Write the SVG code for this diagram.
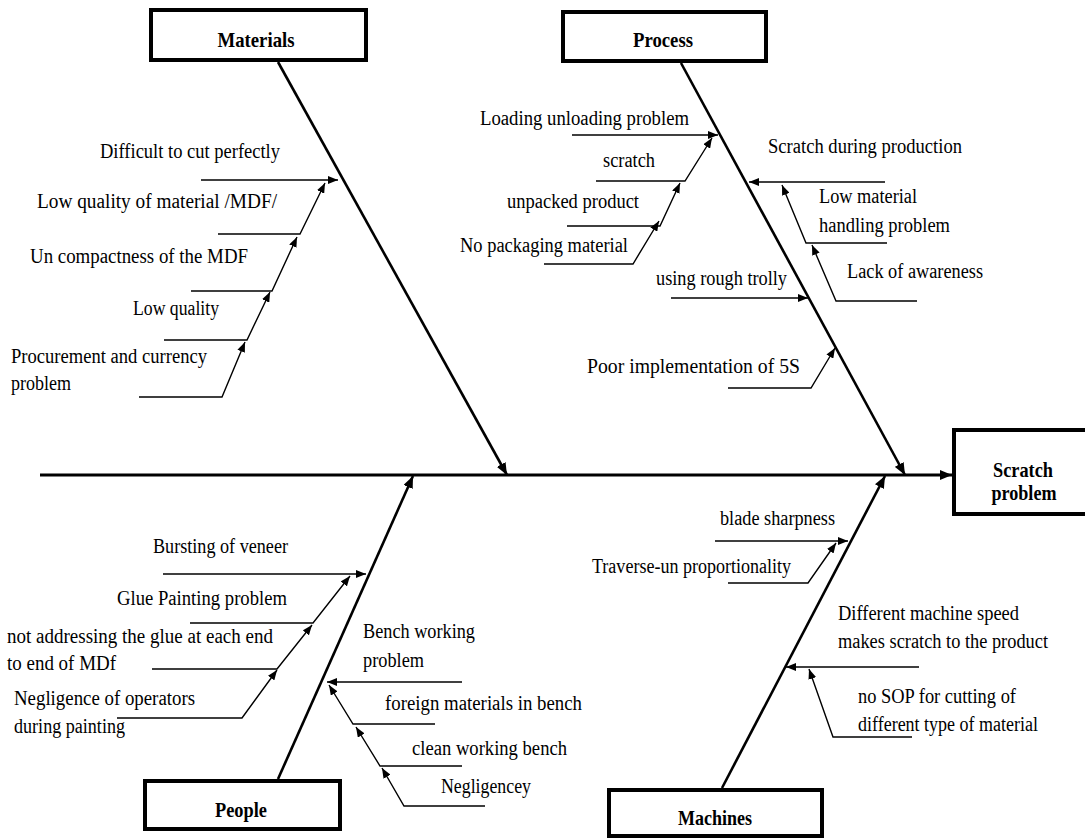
<svg xmlns="http://www.w3.org/2000/svg" width="1085" height="839" viewBox="0 0 1085 839">
<defs>
<style>
.t{font-family:"Liberation Serif","Times New Roman",serif;font-size:20px;fill:#000}
.h{font-family:"Liberation Serif","Times New Roman",serif;font-size:21px;font-weight:bold;fill:#000;text-anchor:middle}
.box{fill:#fff;stroke:#000;stroke-width:4}
.sp{fill:none;stroke:#000;stroke-width:2.6}
.br{fill:none;stroke:#000;stroke-width:1.4;marker-end:url(#ah)}
</style>
<marker id="ah" viewBox="0 0 10 8" refX="10" refY="4" markerWidth="10" markerHeight="8" markerUnits="userSpaceOnUse" orient="auto"><path d="M0,0 L10,4 L0,8 z" fill="#000"/></marker>
<marker id="ahb" viewBox="0 0 12 10" refX="12" refY="5" markerWidth="12" markerHeight="10" markerUnits="userSpaceOnUse" orient="auto"><path d="M0,0 L12,5 L0,10 z" fill="#000"/></marker>
</defs>
<rect width="1085" height="839" fill="#fff"/>

<g id="connectors">
<line x1="40" y1="475" x2="952" y2="475" class="sp" style="stroke-width:3" marker-end="url(#ahb)"/>
<line x1="278" y1="62" x2="507" y2="475" class="sp" marker-end="url(#ahb)"/>
<line x1="681" y1="63" x2="905" y2="475" class="sp" marker-end="url(#ahb)"/>
<line x1="278" y1="779" x2="413" y2="476" class="sp" marker-end="url(#ahb)"/>
<line x1="722" y1="788" x2="885" y2="476" class="sp" marker-end="url(#ahb)"/>

<polyline class="br" points="201,180 338,180"/>
<polyline class="br" points="218,234 300,234 325,183"/>
<polyline class="br" points="191,291 272,291 297,237"/>
<polyline class="br" points="164,340 247,340 270,292"/>
<polyline class="br" points="139,397 222,397 245,342"/>

<polyline class="br" points="572,135 718,135"/>
<polyline class="br" points="596,181 685,181 712,138"/>
<polyline class="br" points="567,226 660,226 680,183"/>
<polyline class="br" points="544,264 633,264 659,221"/>
<polyline class="br" points="671,298 808,298"/>
<polyline class="br" points="728,388 811,388 835,348"/>

<polyline class="br" points="885,182 749,182"/>
<polyline class="br" points="887,243 806,243 782,185"/>
<polyline class="br" points="917,301 836,301 812,245"/>

<polyline class="br" points="163,574 366,574"/>
<polyline class="br" points="190,623 313,623 350,576"/>
<polyline class="br" points="152,669 277,669 312,625"/>
<polyline class="br" points="117,718 242,718 277,670"/>

<polyline class="br" points="462,682 327,682"/>
<polyline class="br" points="435,724 353,724 329,685"/>
<polyline class="br" points="462,766 380,766 356,727"/>
<polyline class="br" points="485,806 404,806 382,768"/>

<polyline class="br" points="715,541 848,541"/>
<polyline class="br" points="728,583 808,583 836,543"/>
<polyline class="br" points="919,667 786,667"/>
<polyline class="br" points="912,737 833,737 809,669"/>
</g>

<g id="materials">
<rect class="box" x="151" y="10" width="215" height="50"/>
<text class="h" x="256" y="47" textLength="77" lengthAdjust="spacingAndGlyphs">Materials</text>
<text class="t" x="100" y="158" textLength="180" lengthAdjust="spacingAndGlyphs">Difficult  to cut perfectly</text>
<text class="t" x="37" y="208" textLength="240" lengthAdjust="spacingAndGlyphs">Low quality  of material  /MDF/</text>
<text class="t" x="30" y="263" textLength="218" lengthAdjust="spacingAndGlyphs">Un compactness  of the MDF</text>
<text class="t" x="133" y="315" textLength="86" lengthAdjust="spacingAndGlyphs">Low quality</text>
<text class="t" x="11" y="363" textLength="196" lengthAdjust="spacingAndGlyphs">Procurement  and currency</text>
<text class="t" x="11" y="390" textLength="60" lengthAdjust="spacingAndGlyphs">problem</text>
</g>

<g id="process">
<rect class="box" x="563" y="12" width="203" height="49"/>
<text class="h" x="663" y="47" textLength="60" lengthAdjust="spacingAndGlyphs">Process</text>
<text class="t" x="480" y="125" textLength="209" lengthAdjust="spacingAndGlyphs">Loading  unloading  problem</text>
<text class="t" x="603" y="167" textLength="52" lengthAdjust="spacingAndGlyphs">scratch</text>
<text class="t" x="507" y="208" textLength="132" lengthAdjust="spacingAndGlyphs">unpacked  product</text>
<text class="t" x="460" y="252" textLength="168" lengthAdjust="spacingAndGlyphs">No packaging  material</text>
<text class="t" x="656" y="285" textLength="131" lengthAdjust="spacingAndGlyphs">using  rough  trolly</text>
<text class="t" x="587" y="373" textLength="213" lengthAdjust="spacingAndGlyphs">Poor  implementation   of 5S</text>
<text class="t" x="768" y="153" textLength="194" lengthAdjust="spacingAndGlyphs">Scratch during  production</text>
<text class="t" x="819" y="203" textLength="98" lengthAdjust="spacingAndGlyphs">Low material</text>
<text class="t" x="819" y="232" textLength="131" lengthAdjust="spacingAndGlyphs">handling  problem</text>
<text class="t" x="847" y="278" textLength="136" lengthAdjust="spacingAndGlyphs">Lack of awareness</text>
</g>

<g id="people">
<rect class="box" x="145" y="781" width="195" height="48"/>
<text class="h" x="241" y="817" textLength="52" lengthAdjust="spacingAndGlyphs">People</text>
<text class="t" x="153" y="553" textLength="135" lengthAdjust="spacingAndGlyphs">Bursting  of veneer</text>
<text class="t" x="117" y="605" textLength="170" lengthAdjust="spacingAndGlyphs">Glue  Painting  problem</text>
<text class="t" x="7" y="643" textLength="266" lengthAdjust="spacingAndGlyphs">not addressing  the glue  at each end</text>
<text class="t" x="7" y="670" textLength="109" lengthAdjust="spacingAndGlyphs">to end  of MDf</text>
<text class="t" x="14" y="705" textLength="181" lengthAdjust="spacingAndGlyphs">Negligence  of operators</text>
<text class="t" x="14" y="733" textLength="111" lengthAdjust="spacingAndGlyphs">during  painting</text>
<text class="t" x="363" y="638" textLength="112" lengthAdjust="spacingAndGlyphs">Bench working</text>
<text class="t" x="363" y="667" textLength="61" lengthAdjust="spacingAndGlyphs">problem</text>
<text class="t" x="385" y="710" textLength="197" lengthAdjust="spacingAndGlyphs">foreign  materials  in bench</text>
<text class="t" x="412" y="755" textLength="155" lengthAdjust="spacingAndGlyphs">clean  working  bench</text>
<text class="t" x="441" y="793" textLength="90" lengthAdjust="spacingAndGlyphs">Negligencey</text>
</g>

<g id="machines">
<rect class="box" x="609" y="790" width="213" height="46"/>
<text class="h" x="715" y="825" textLength="74" lengthAdjust="spacingAndGlyphs">Machines</text>
<text class="t" x="720" y="525" textLength="115" lengthAdjust="spacingAndGlyphs">blade  sharpness</text>
<text class="t" x="592" y="573" textLength="199" lengthAdjust="spacingAndGlyphs">Traverse-un  proportionality</text>
<text class="t" x="838" y="620" textLength="181" lengthAdjust="spacingAndGlyphs">Different  machine  speed</text>
<text class="t" x="838" y="648" textLength="210" lengthAdjust="spacingAndGlyphs">makes  scratch to the product</text>
<text class="t" x="858" y="703" textLength="158" lengthAdjust="spacingAndGlyphs">no SOP for cutting  of</text>
<text class="t" x="858" y="731" textLength="180" lengthAdjust="spacingAndGlyphs">different  type of material</text>
</g>

<g id="scratch-problem">
<rect class="box" x="954" y="430" width="140" height="84"/>
<text class="h" x="1023" y="477" textLength="60" lengthAdjust="spacingAndGlyphs">Scratch</text>
<text class="h" x="1024" y="500" textLength="65" lengthAdjust="spacingAndGlyphs">problem</text>
</g>
</svg>
